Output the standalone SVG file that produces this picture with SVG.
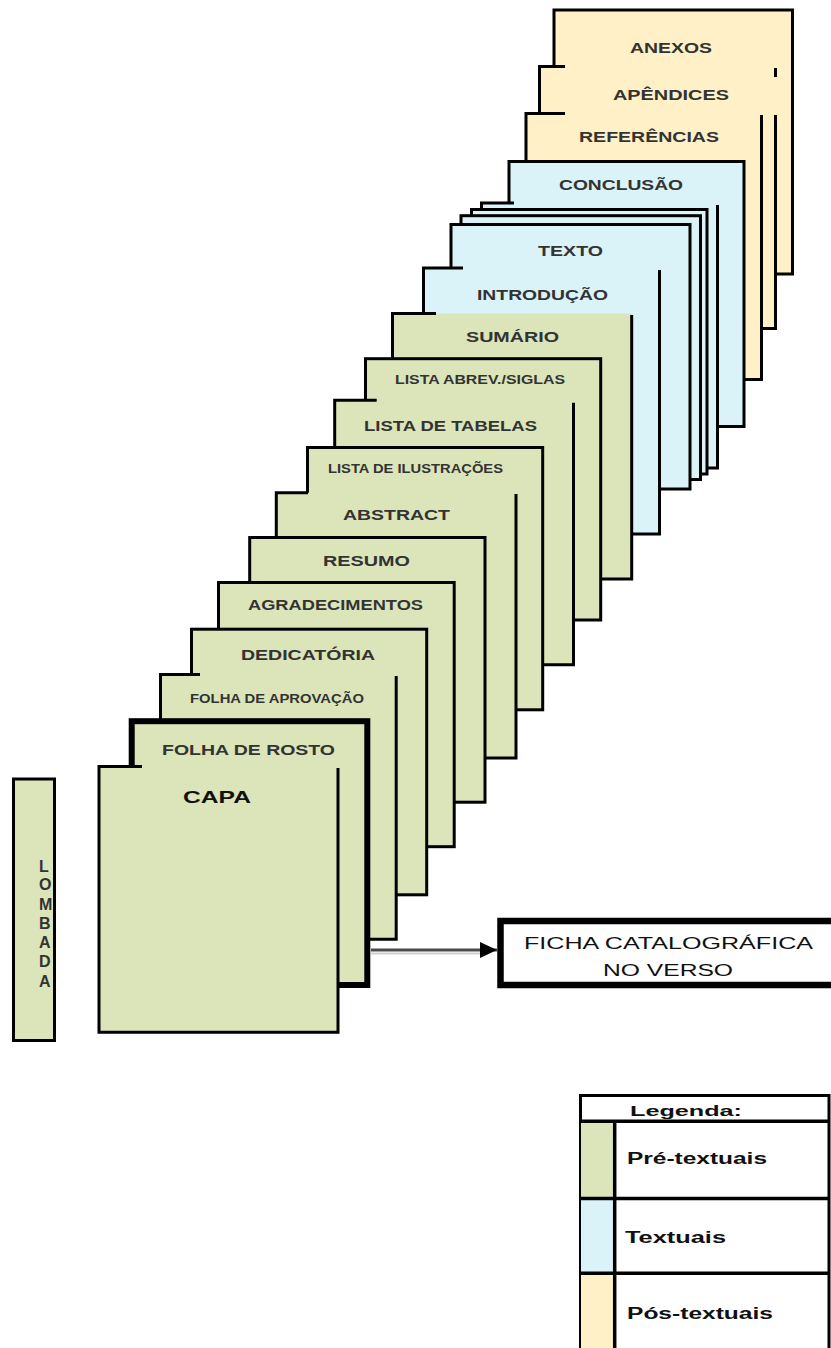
<svg xmlns="http://www.w3.org/2000/svg" width="831" height="1348" viewBox="0 0 831 1348">
<defs>
<style>
.g{fill:#dbe5b9}
.b{fill:#daf3f8}
.y{fill:#fff0c8}
.e{fill:none;stroke:#000;stroke-width:3}
.full{stroke:#000;stroke-width:3}
.t{font-family:"Liberation Sans",Arial,sans-serif;font-weight:bold;fill:#333;text-anchor:middle}
.lt{font-family:"Liberation Sans",Arial,sans-serif;font-weight:bold;fill:#111}
</style>
<marker id="ah" markerWidth="17" markerHeight="16" refX="17" refY="8" orient="auto" markerUnits="userSpaceOnUse">
<path d="M0,0 L17,8 L0,16 Z" fill="#000"/>
</marker>
<clipPath id="lc"><rect x="15" y="780" width="38" height="260"/></clipPath>
</defs>

<g id="anexos">
<rect class="y full" x="554" y="10" width="238.5" height="264"/>
<text class="t" x="671" y="52.5" font-size="15" textLength="82" lengthAdjust="spacingAndGlyphs">ANEXOS</text>
</g>
<g id="apendices">
<rect class="y" x="539.5" y="66.5" width="236" height="262"/>
<path class="e" d="M565,66.5 H539.5 V328.5 H775.5 V115 M775.5,77 V68"/>
<text class="t" x="671" y="99.5" font-size="15" textLength="116" lengthAdjust="spacingAndGlyphs">APÊNDICES</text>
</g>
<g id="referencias">
<rect class="y" x="526" y="113.5" width="235.5" height="266"/>
<path class="e" d="M565,113.5 H526 V379.5 H761.5 V115"/>
<text class="t" x="649" y="141.5" font-size="15" textLength="140" lengthAdjust="spacingAndGlyphs">REFERÊNCIAS</text>
</g>
<g id="conclusao">
<rect class="b full" x="509" y="161.5" width="235" height="265"/>
<text class="t" x="621" y="190" font-size="15" textLength="124" lengthAdjust="spacingAndGlyphs">CONCLUSÃO</text>
</g>
<g id="textual-1">
<rect class="b" x="481.5" y="203" width="236" height="265"/>
<path class="e" d="M514,203 H481.5 V468 H717.5 V205"/>
</g>
<g id="textual-2">
<rect class="b full" x="471.5" y="209.5" width="235.5" height="264.5"/>
</g>
<g id="textual-3">
<rect class="b full" x="461" y="215.7" width="239.5" height="263.8"/>
</g>
<g id="texto">
<rect class="b full" x="451" y="224.5" width="239" height="264.5"/>
<text class="t" x="570.5" y="256" font-size="15" textLength="65" lengthAdjust="spacingAndGlyphs">TEXTO</text>
</g>
<g id="introducao">
<rect class="b" x="423.5" y="268" width="236" height="266"/>
<path class="e" d="M463,268 H423.5 V534 H659.5 V270"/>
<text class="t" x="542.5" y="299.5" font-size="15" textLength="131" lengthAdjust="spacingAndGlyphs">INTRODUÇÃO</text>
</g>
<g id="sumario">
<rect class="g" x="392.5" y="313.5" width="239.2" height="265.5"/>
<path class="e" d="M436,313.5 H392.5 V579 H631.7 V315"/>
<text class="t" x="512.5" y="342" font-size="15" textLength="93" lengthAdjust="spacingAndGlyphs">SUMÁRIO</text>
</g>
<g id="lista-abrev">
<rect class="g full" x="365.5" y="358.7" width="235.2" height="261.3"/>
<text class="t" x="480" y="384" font-size="13" textLength="170" lengthAdjust="spacingAndGlyphs">LISTA ABREV./SIGLAS</text>
</g>
<g id="lista-tabelas">
<rect class="g" x="334.7" y="400.3" width="238.8" height="264.5"/>
<path class="e" d="M376.7,400.3 H334.7 V664.8 H573.5 V402.7"/>
<text class="t" x="450.5" y="431" font-size="15" textLength="173" lengthAdjust="spacingAndGlyphs">LISTA DE TABELAS</text>
</g>
<g id="lista-ilustracoes">
<rect class="g full" x="307.5" y="447.5" width="235.2" height="262.3"/>
<text class="t" x="415.5" y="473" font-size="12" textLength="175" lengthAdjust="spacingAndGlyphs">LISTA DE ILUSTRAÇÕES</text>
</g>
<g id="abstract">
<rect class="g" x="276.3" y="492.7" width="239.7" height="265.3"/>
<path class="e" d="M308,492.7 H276.3 V758 H516 V494"/>
<text class="t" x="396.5" y="520" font-size="15" textLength="107" lengthAdjust="spacingAndGlyphs">ABSTRACT</text>
</g>
<g id="resumo">
<rect class="g full" x="249.7" y="537.5" width="235.3" height="264.7"/>
<text class="t" x="366.5" y="566" font-size="15" textLength="87" lengthAdjust="spacingAndGlyphs">RESUMO</text>
</g>
<g id="agradecimentos">
<rect class="g full" x="218.5" y="582.5" width="235.7" height="264.2"/>
<text class="t" x="335.5" y="610" font-size="14" textLength="175" lengthAdjust="spacingAndGlyphs">AGRADECIMENTOS</text>
</g>
<g id="dedicatoria">
<rect class="g full" x="191.5" y="629.2" width="235.2" height="265.6"/>
<text class="t" x="308" y="660" font-size="15" textLength="134" lengthAdjust="spacingAndGlyphs">DEDICATÓRIA</text>
</g>
<g id="folha-aprovacao">
<rect class="g" x="160.5" y="674.5" width="235.7" height="264.7"/>
<path class="e" d="M200,674.5 H160.5 V939.2 H396.2 V676"/>
<text class="t" x="277" y="703" font-size="12" textLength="174" lengthAdjust="spacingAndGlyphs">FOLHA DE APROVAÇÃO</text>
</g>
<g id="folha-rosto">
<rect class="g" x="131.7" y="721.2" width="235.6" height="263.8" stroke="#000" stroke-width="6"/>
<text class="t" x="248.5" y="754.5" font-size="15" textLength="173" lengthAdjust="spacingAndGlyphs">FOLHA DE ROSTO</text>
</g>
<g id="capa">
<rect class="g" x="99" y="766.5" width="239" height="265.7"/>
<path class="e" d="M142,766.5 H99 V1032.2 H338 V768"/>
<text class="t" x="217" y="803" font-size="17" style="fill:#111" textLength="68" lengthAdjust="spacingAndGlyphs">CAPA</text>
</g>

<g id="lombada">
<rect class="g full" x="13.5" y="779" width="41" height="261.5"/>
<g clip-path="url(#lc)" class="lt" font-size="16" style="fill:#333">
<text x="39" y="872">L</text>
<text x="39" y="890">O</text>
<text x="39" y="910">M</text>
<text x="39" y="929">B</text>
<text x="39" y="948">A</text>
<text x="39" y="967">D</text>
<text x="39" y="987">A</text>
</g>
</g>

<g id="ficha">
<rect x="500.5" y="921" width="400" height="64" fill="#fff" stroke="#000" stroke-width="6.5"/>
<text class="t" x="668.5" y="949" font-size="16" style="fill:#111;font-weight:normal" textLength="289" lengthAdjust="spacingAndGlyphs">FICHA CATALOGRÁFICA</text>
<text class="t" x="668" y="976" font-size="16" style="fill:#111;font-weight:normal" textLength="130" lengthAdjust="spacingAndGlyphs">NO VERSO</text>
</g>

<g id="connectors">
<line x1="371" y1="953.5" x2="484" y2="953.5" stroke="#cfcfcf" stroke-width="2"/>
<line x1="371" y1="950" x2="497" y2="950" stroke="#4a4a4a" stroke-width="3" marker-end="url(#ah)"/>
</g>

<g id="legenda">
<rect x="580.5" y="1095.5" width="248.5" height="270" fill="#fff" stroke="#000" stroke-width="3"/>
<rect class="g" x="581" y="1122" width="33" height="76"/>
<rect class="b" x="581" y="1199" width="33" height="74"/>
<rect class="y" x="581" y="1274" width="33" height="90"/>
<path d="M580.5,1121.3 H829 M614.7,1121.3 V1360 M580.5,1198.5 H829 M580.5,1273.2 H829" fill="none" stroke="#000" stroke-width="3.5"/>
<text class="lt" x="686" y="1116" font-size="15" text-anchor="middle" textLength="112" lengthAdjust="spacingAndGlyphs">Legenda:</text>
<text class="lt" x="627" y="1164" font-size="16" textLength="140" lengthAdjust="spacingAndGlyphs">Pré-textuais</text>
<text class="lt" x="625" y="1243" font-size="16" textLength="101" lengthAdjust="spacingAndGlyphs">Textuais</text>
<text class="lt" x="627" y="1319" font-size="16" textLength="146" lengthAdjust="spacingAndGlyphs">Pós-textuais</text>
</g>
</svg>
